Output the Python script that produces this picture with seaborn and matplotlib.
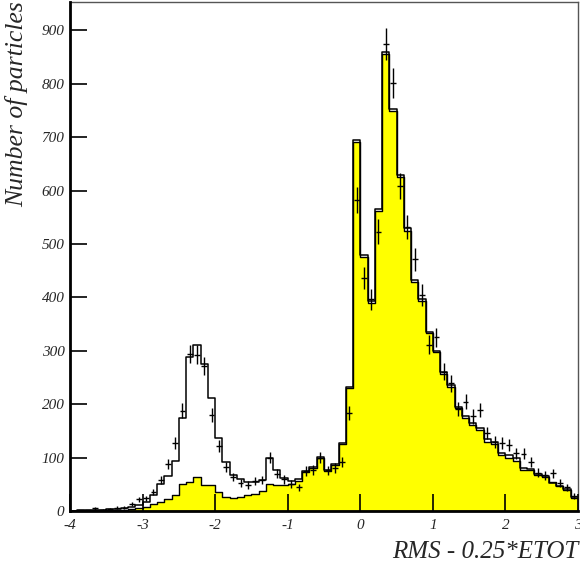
import numpy as np
import pandas as pd
import matplotlib
matplotlib.use("Agg")
import matplotlib.pyplot as plt
import seaborn as sns

# bins: 70 bins of width 0.1 from -4 to 3
edges = np.linspace(-4, 3, 71)
centers = (edges[:-1] + edges[1:]) / 2

# total expectation (black outline)
total = [0, 1, 1, 2, 2, 3, 4, 5, 8, 11,
         17, 30, 50, 65, 94, 174, 288, 311, 275, 212,
         136, 91, 67, 59, 54, 55, 58, 99, 77, 62,
         56, 59, 75, 83, 102, 77, 88, 127, 233, 695,
         480, 393, 566, 860, 753, 630, 529, 432, 397, 336,
         300, 260, 236, 195, 177, 165, 156, 134, 130, 109,
         105, 99, 80, 79, 69, 66, 53, 47, 41, 27]

# component shown in yellow
yellow = [0, 0, 0, 1, 1, 1, 2, 2, 3, 6,
          8, 13, 17, 23, 30, 51, 55, 63, 49, 48,
          35, 27, 25, 27, 30, 32, 37, 50, 49, 48,
          50, 56, 73, 81, 100, 75, 86, 125, 230, 690,
          476, 390, 562, 855, 749, 626, 525, 429, 393, 333,
          297, 257, 233, 192, 174, 161, 152, 130, 126, 104,
          99, 93, 77, 76, 67, 64, 55, 46, 40, 25]

# measured points (crosses)
data = [0, 1, 1, 5, 2, 3, 6, 6, 14, 22,
        24, 36, 58, 88, 128, 188, 294, 293, 271, 180,
        122, 83, 64, 52, 49, 57, 58, 100, 70, 59,
        51, 44, 75, 77, 100, 76, 80, 91, 183, 583,
        436, 396, 523, 874, 802, 608, 532, 471, 404, 311,
        325, 261, 239, 191, 205, 177, 189, 146, 129, 127,
        123, 108, 107, 91, 72, 67, 71, 53, 44, 28]

df = pd.DataFrame({"x": centers, "total": total, "yellow": yellow, "data": data})
bin_list = [float(e) for e in edges]

sns.set_style("ticks")
plt.rcParams['font.family'] = ['Liberation Serif', 'DejaVu Serif']
plt.rcParams['axes.unicode_minus'] = False

fig = plt.figure(figsize=(5.8, 5.64), dpi=100)
ax = fig.add_axes([70 / 580, 53 / 564, 508 / 580, 509 / 564])
ax.set_axisbelow(False)

sns.histplot(data=df, x="x", weights="yellow", bins=bin_list, element="step", fill=True,
             color="#ffff00", alpha=1, edgecolor="black", linewidth=1.0, ax=ax)
sns.histplot(data=df, x="x", weights="total", bins=bin_list, element="step", fill=False,
             color="black", linewidth=1.1, ax=ax)

ax.errorbar(df["x"], df["data"], yerr=np.sqrt(df["data"]), xerr=0.04, fmt='none',
            ecolor='black', elinewidth=1.0, capsize=0)

ax.set_xlim(-4, 3)
ax.set_ylim(0, 953)
ax.set_xticks(range(-4, 4))
ax.set_yticks(range(0, 1000, 100))
ax.set_xlabel("")
ax.set_ylabel("")
ax.tick_params(direction="in", length=12, width=1.2, labelsize=11, color="black")
ax.tick_params(axis="x", pad=6)
ax.tick_params(axis="y", pad=4)
for lab in ax.get_xticklabels() + ax.get_yticklabels():
    lab.set_fontstyle("italic")

for side in ["left", "bottom"]:
    ax.spines[side].set_linewidth(2.0)
    ax.spines[side].set_color("black")
    ax.spines[side].set_zorder(5)
for side in ["top", "right"]:
    ax.spines[side].set_visible(True)
    ax.spines[side].set_linewidth(1.0)
    ax.spines[side].set_color("#555555")

fig.text(578 / 580, 6 / 564, "RMS - 0.25*ETOT", ha="right", va="baseline",
         fontsize=18, fontstyle="italic")
fig.text(17 / 580, 1 - 1 / 564, "Number of particles", ha="center", va="top",
         rotation=90, fontsize=18.5, fontstyle="italic")

fig.savefig("out.png", dpi=100)
